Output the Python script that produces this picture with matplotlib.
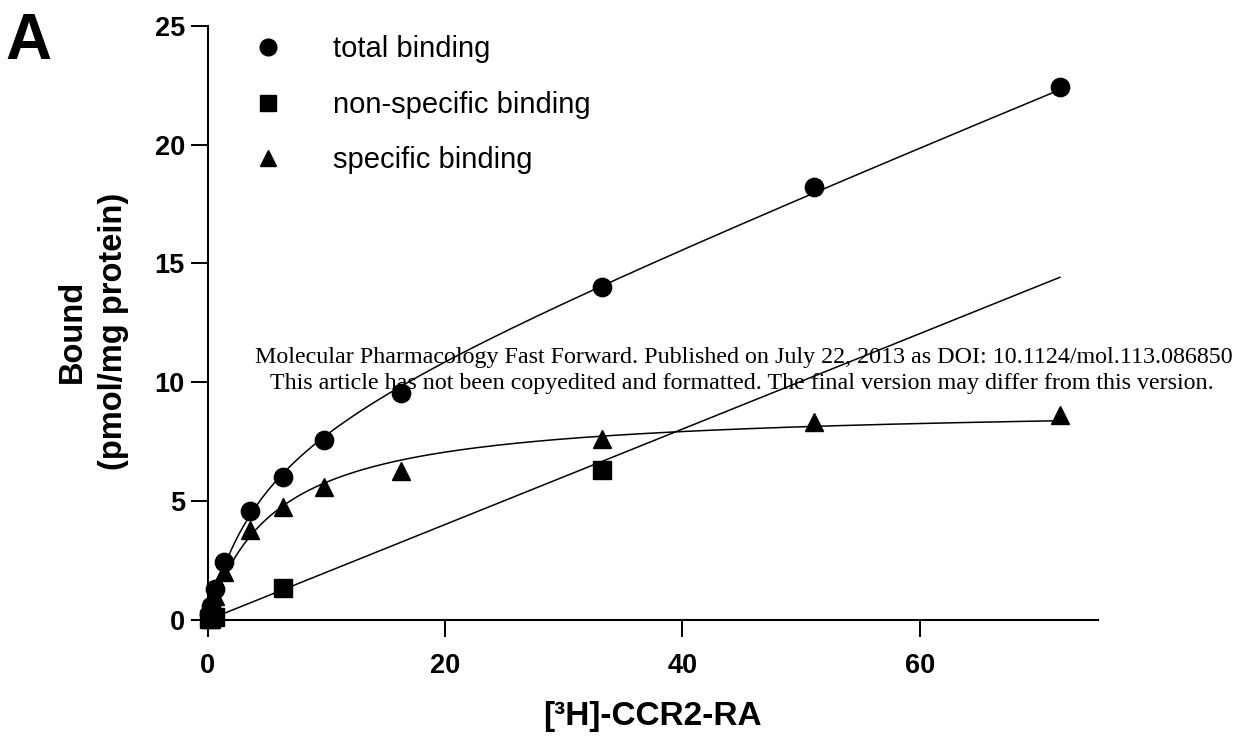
import numpy as np
import matplotlib
matplotlib.use("Agg")
import matplotlib.pyplot as plt
from matplotlib.lines import Line2D

# ---- data ----
conc = [0.1, 0.25, 0.6, 1.4, 3.56, 6.37, 9.8, 16.26, 33.2, 51.1, 71.8]
total_binding = [0.25, 0.6, 1.29, 2.44, 4.58, 6.0, 7.57, 9.54, 14.0, 18.2, 22.41]
specific_binding = [0.2, 0.5, 1.0, 2.02, 3.8, 4.75, 5.6, 6.28, 7.6, 8.35, 8.62]
ns_conc = [0.1, 0.25, 0.6, 6.37, 33.2]
nonspecific_binding = [0.02, 0.05, 0.12, 1.33, 6.31]

legend_labels = ["total binding", "non-specific binding", "specific binding"]
xticks = [0, 20, 40, 60]
yticks = [0, 5, 10, 15, 20, 25]

# ---- one-site fits: total & nonspecific share the NS slope ----
x = np.array(conc)
yt = np.array(total_binding)
ys = np.array(specific_binding)
xn = np.array(ns_conc)
yn = np.array(nonspecific_binding)
Ks = np.linspace(0.3, 40, 4000)

best = None
for K in Ks:
    A = np.vstack([np.column_stack([x / (K + x), x]),
                   np.column_stack([np.zeros_like(xn), xn])])
    b = np.concatenate([yt, yn])
    coef, *_ = np.linalg.lstsq(A, b, rcond=None)
    r = np.sum((A @ coef - b) ** 2)
    if best is None or r < best[0]:
        best = (r, K, coef)
_, Kt, (Bt, NS) = best

best = None
for K in Ks:
    a = x / (K + x)
    B = np.dot(a, ys) / np.dot(a, a)
    r = np.sum((B * a - ys) ** 2)
    if best is None or r < best[0]:
        best = (r, K, B)
_, Kspec, Bspec = best

xf = np.linspace(0, max(conc), 400)
fit_total = Bt * xf / (Kt + xf) + NS * xf
fit_ns = NS * xf
fit_spec = Bspec * xf / (Kspec + xf)

# ---- figure ----
plt.rcParams['font.family'] = ['Liberation Sans', 'DejaVu Sans']
fig = plt.figure(figsize=(12.43, 7.40), dpi=100)
ax = fig.add_axes([0.1671, 0.1622, 0.7162, 0.8030])

lw = 1.1
ax.plot(xf, fit_total, color='black', lw=lw)
ax.plot(xf, fit_ns, color='black', lw=lw)
ax.plot(xf, fit_spec, color='black', lw=lw)

ax.plot(conc, total_binding, 'o', color='black', ms=13.2, clip_on=False, zorder=5)
ax.plot(ns_conc, nonspecific_binding, 's', color='black', ms=12.8, clip_on=False, zorder=5)
ax.plot(conc, specific_binding, '^', color='black', ms=13.0, clip_on=False, zorder=5)

ax.set_xlim(0, 75)
ax.set_ylim(0, 25)
ax.set_xticks(xticks)
ax.set_yticks(yticks)
ax.set_xticklabels([str(t) for t in xticks], fontsize=19.5, fontweight='bold')
ax.set_yticklabels([str(t) for t in yticks], fontsize=19.5, fontweight='bold')
for s in ['top', 'right']:
    ax.spines[s].set_visible(False)
for s in ['left', 'bottom']:
    ax.spines[s].set_linewidth(1.5)
ax.spines['bottom'].set_bounds(-1.3, 75)
ax.tick_params(direction='out', length=12.5, width=1.4)
ax.tick_params(axis='x', pad=11)
ax.tick_params(axis='y', pad=4)

ax.set_xlabel("[³H]-CCR2-RA", fontsize=24, fontweight='bold', labelpad=16)
ax.set_ylabel("Bound\n(pmol/mg protein)", fontsize=23.5, fontweight='bold',
              linespacing=1.42)
ax.yaxis.set_label_coords(-0.088, 0.486)

handles = [Line2D([], [], ls='none', marker='o', color='black', ms=12),
           Line2D([], [], ls='none', marker='s', color='black', ms=11.5),
           Line2D([], [], ls='none', marker='^', color='black', ms=12)]
fig.legend(handles, legend_labels, loc='upper left',
           bbox_to_anchor=(253 / 1243, 1 - 35 / 740), frameon=False,
           fontsize=21, handlelength=1.0, handletextpad=1.75,
           labelspacing=0.95, borderpad=0, borderaxespad=0)

fig.text(5 / 1243, 1 - 12 / 740, "A", fontsize=46, fontweight='bold',
         ha='left', va='top')

wm = dict(family=['Liberation Serif', 'DejaVu Serif'], fontsize=17.3,
          ha='center', va='center', color='black')
fig.text(744 / 1243, 1 - 357 / 740,
         "Molecular Pharmacology Fast Forward. Published on July 22, 2013 as DOI: 10.1124/mol.113.086850",
         **wm)
fig.text(742 / 1243, 1 - 384 / 740,
         "This article has not been copyedited and formatted. The final version may differ from this version.",
         **wm)

fig.savefig("out.png", dpi=100)
